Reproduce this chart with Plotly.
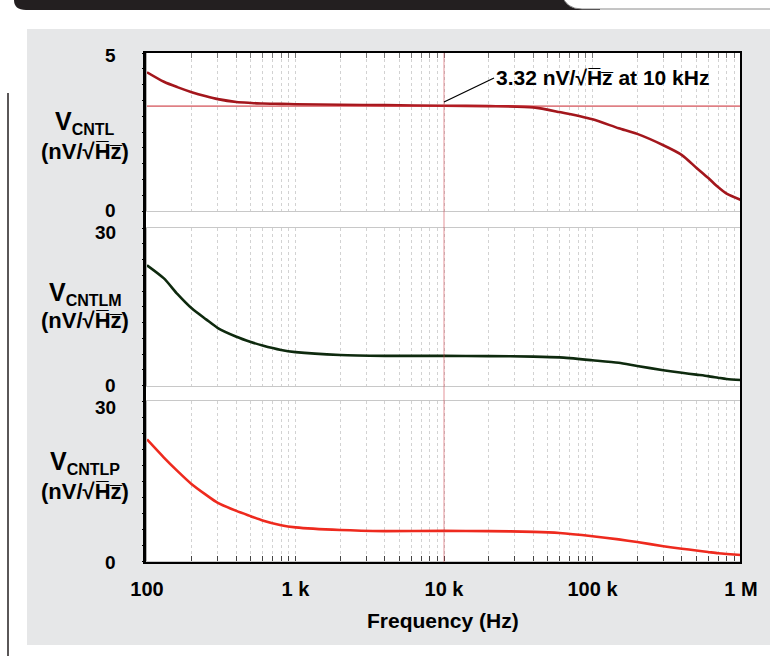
import plotly.graph_objects as go
from plotly.subplots import make_subplots

W, H = 770, 656

# data (frequency in Hz, noise in nV/sqrt(Hz))
freq_hz = [100, 130, 160, 200, 250, 300, 400, 500, 600, 800,
           1e3, 2e3, 4e3, 1e4, 2e4, 4e4, 6e4, 1e5, 1.5e5, 2e5,
           3e5, 4e5, 5e5, 6e5, 7e5, 8e5, 1e6]
v_cntl = [4.39, 4.09, 3.92, 3.76, 3.63, 3.54, 3.45, 3.42, 3.40, 3.39,
          3.38, 3.36, 3.35, 3.33, 3.32, 3.28, 3.13, 2.90, 2.62, 2.44,
          2.08, 1.77, 1.37, 1.05, 0.76, 0.55, 0.35]
v_cntlm = [22.9, 20.4, 17.45, 14.7, 12.6, 10.95, 9.3, 8.3, 7.6, 6.75,
           6.35, 5.8, 5.65, 5.65, 5.6, 5.5, 5.35, 4.8, 4.32, 3.7,
           2.92, 2.42, 2.07, 1.79, 1.49, 1.24, 1.05]
v_cntlp = [22.8, 19.4, 16.9, 14.4, 12.4, 10.9, 9.4, 8.4, 7.6, 6.7,
           6.3, 5.8, 5.6, 5.65, 5.6, 5.47, 5.25, 4.65, 4.05, 3.55,
           2.78, 2.3, 1.98, 1.69, 1.45, 1.31, 1.13]

series = [v_cntl, v_cntlm, v_cntlp]
names = ['CNTL', 'CNTLM', 'CNTLP']
y_max = [5, 30, 30]
y_minor = [0.5, 3, 3]
y_tick_labels = [['0', '5'], ['0', '30'], ['0', '30']]
colors = ['#A3161C', '#0E2A0E', '#EE2A1E']

marker_hz = 1e4
marker_val = 3.32

decade_text = {100: '100', 1000: '1 k', 10000: '10 k', 100000: '100 k', 1000000: '1 M'}
x_tick_vals = [m * 10 ** e for e in range(2, 6) for m in range(1, 10)] + [10 ** 6]
x_tick_text = [decade_text.get(v, '') for v in x_tick_vals]

FONT = 'Liberation Sans, Arial, sans-serif'


def px(x):
    return x / W


def py(y):
    return 1 - y / H


def pt(x, y):
    return f'{px(x):.5f},{py(y):.5f}'


# pixel layout of the three panels (top, bottom)
panel_px = [(53, 211), (228, 385.5), (401, 561)]
x_left, x_right = 147, 741
# small nudges of the y labels, as in the original figure
label_shift = [(1, -2), (0, -4.5), (-1.5, -6)]

fig = make_subplots(rows=3, cols=1, shared_xaxes=True)

for i, vals in enumerate(series):
    fig.add_trace(
        go.Scatter(
            x=freq_hz, y=vals, mode='lines',
            line=dict(color=colors[i], width=2.6, shape='spline', smoothing=0.7),
            showlegend=False, hoverinfo='skip',
        ),
        row=i + 1, col=1,
    )

grid = dict(showgrid=True, gridcolor='#D2D2D2', griddash='dot', gridwidth=1)
annotations = []

for i in range(3):
    top, bot = panel_px[i]
    xa = dict(
        type='log', range=[2, 6], domain=[px(x_left), px(x_right)], automargin=False,
        tickmode='array', tickvals=x_tick_vals, ticktext=x_tick_text,
        showline=True, linecolor='#C8C8C8', linewidth=1, mirror=True,
        zeroline=False, **grid,
    )
    if i == 0:
        xa.update(side='top', ticks='inside', ticklen=5, tickcolor='#777777', showticklabels=False)
    elif i == 1:
        xa.update(ticks='', showticklabels=False)
    else:
        xa.update(ticks='inside', ticklen=5, tickcolor='#444444', showticklabels=True,
                  tickfont=dict(family=FONT, size=20, color='black', weight='bold'),
                  ticklabelstandoff=10)
    fig.update_layout({f'xaxis{"" if i == 0 else i + 1}': xa})

    ya = dict(
        range=[0, y_max[i]], domain=[py(bot), py(top)], automargin=False,
        tickmode='array', tickvals=[0, y_max[i]],
        ticks='outside', ticklen=4, tickcolor='black', showticklabels=False,
        minor=dict(dtick=y_minor[i], ticks='outside', ticklen=4, tickcolor='black', showgrid=False),
        showline=True, linecolor='#B0B0B0', linewidth=1,
        showgrid=False, zeroline=False,
    )
    fig.update_layout({f'yaxis{"" if i == 0 else i + 1}': ya})

    yref = 'y' if i == 0 else f'y{i + 1}'
    for val, txt, shift in zip([0, y_max[i]], y_tick_labels[i], label_shift[i]):
        annotations.append(dict(
            xref='paper', yref=yref, x=px(118), y=val, yshift=shift,
            xanchor='right', yanchor='middle', text=txt, showarrow=False,
            font=dict(family=FONT, size=19, color='black', weight='bold'),
        ))

shapes = [
    # grey page panel
    dict(type='rect', xref='paper', yref='paper', x0=px(27), x1=px(775), y0=py(645), y1=py(29),
         fillcolor='#E6E7E8', line=dict(width=0), layer='below'),
    # white plotting frame
    dict(type='rect', xref='paper', yref='paper', x0=px(144), x1=px(741), y0=py(563), y1=py(52),
         fillcolor='white', line=dict(width=0), layer='below'),
    # black header bar
    dict(type='path', xref='paper', yref='paper', layer='below',
         path=f'M {pt(14, -5)} L {pt(14, 0)} Q {pt(14, 10)} {pt(26, 10)} L {pt(600, 10)} L {pt(600, -5)} Z',
         fillcolor='#231F20', line=dict(width=0)),
    # white tab on the right of the header
    dict(type='path', xref='paper', yref='paper', layer='below',
         path=f'M {pt(562, -5)} Q {pt(566, 9)} {pt(582, 9)} L {pt(775, 9)} L {pt(775, -5)} Z',
         fillcolor='white', line=dict(color='#8A8A8A', width=1)),
    # thin left rule
    dict(type='line', xref='paper', yref='paper', x0=px(8), x1=px(8), y0=py(93), y1=py(660),
         line=dict(color='#231F20', width=1.5)),
    # 3.32 level and 10 kHz cursor
    dict(type='line', xref='x domain', yref='y', x0=0, x1=1, y0=marker_val, y1=marker_val,
         line=dict(color='#C8242B', width=1)),
    dict(type='line', xref='x', yref='paper', x0=marker_hz, x1=marker_hz, y0=py(563), y1=py(52),
         line=dict(color='rgba(205,60,70,0.55)', width=1)),
    # black frame border
    dict(type='rect', xref='paper', yref='paper', x0=px(144), x1=px(741), y0=py(563), y1=py(52),
         line=dict(color='black', width=2), layer='above'),
    dict(type='line', xref='paper', yref='paper', x0=px(144.5), x1=px(144.5), y0=py(564), y1=py(51),
         line=dict(color='black', width=3), layer='above'),
]

# radical with a combining overline over "Hz"
sqrt_hz = '√H\u0305z\u0305'
title_pos = [(122, 151), (293, 320), (462, 491)]
for i in range(3):
    y_v, y_u = title_pos[i]
    annotations.append(dict(
        xref='paper', yref='paper', x=px(85), y=py(y_v), xanchor='center', yanchor='middle',
        text=f"V<sub><span style='font-size:16px'>{names[i]}</span></sub>", showarrow=False,
        font=dict(family=FONT, size=25, color='black', weight='bold'),
    ))
    annotations.append(dict(
        xref='paper', yref='paper', x=px(85), y=py(y_u), xanchor='center', yanchor='middle',
        text=f'(nV/{sqrt_hz})', showarrow=False,
        font=dict(family=FONT, size=22, color='black', weight='bold'),
    ))

annotations.append(dict(
    xref='paper', yref='paper', x=px(443), y=py(620), xanchor='center', yanchor='middle',
    text='Frequency (Hz)', showarrow=False,
    font=dict(family=FONT, size=21, color='black', weight='bold'),
))

annotations.append(dict(
    xref='x', yref='y', x=4, y=3.45, ax=50, ay=-24,
    xanchor='left', yanchor='middle',
    text=f'{marker_val} nV/{sqrt_hz} at 10 kHz', showarrow=True,
    arrowhead=0, arrowwidth=1.3, arrowcolor='black', standoff=0,
    font=dict(family=FONT, size=21, color='black', weight='bold'),
))

fig.update_layout(
    width=W, height=H,
    margin=dict(l=0, r=0, t=0, b=0, autoexpand=False),
    paper_bgcolor='white',
    plot_bgcolor='white',
    showlegend=False,
    hovermode=False,
    font=dict(family=FONT, size=19, color='black', weight='bold'),
    shapes=shapes,
    annotations=annotations,
)

# the page body has a default 8px margin; drop it so the figure sits at the window corner
fig.write_html('out.html', config={'displayModeBar': False},
               post_script="document.body.style.margin='0';")
